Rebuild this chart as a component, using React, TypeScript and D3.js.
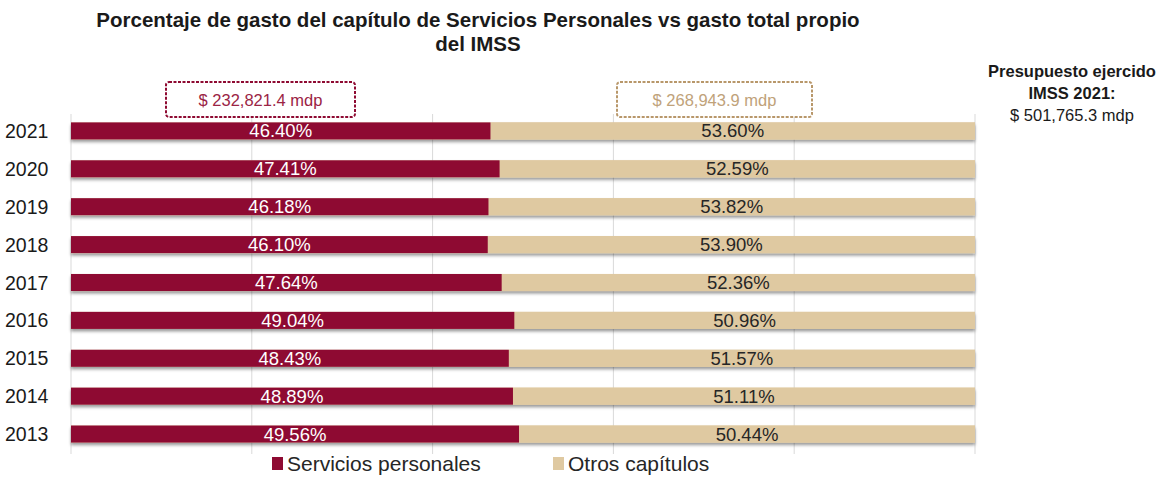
import React, { useEffect, useRef } from "react"
import * as d3 from "d3"

const years = ["2021", "2020", "2019", "2018", "2017", "2016", "2015", "2014", "2013"]
const servicios = [46.4, 47.41, 46.18, 46.1, 47.64, 49.04, 48.43, 48.89, 49.56]
const otros = [53.6, 52.59, 53.82, 53.9, 52.36, 50.96, 51.57, 51.11, 50.44]
const xTicks = [0, 20, 40, 60, 80, 100]
const seriesNames = ["Servicios personales", "Otros capítulos"]
const boxLabels = ["$ 232,821.4 mdp", "$ 268,943.9 mdp"]
const sideNote = ["Presupuesto ejercido", "IMSS 2021:", "$ 501,765.3 mdp"]

const WIDTH = 1163
const HEIGHT = 477
const MAROON = "#8e0a32"
const TAN = "#dfc9a1"
const FONT = "'Liberation Sans', Arial, sans-serif"

const App = () => {
	const ref = useRef(null)

	useEffect(() => {
		const svg = d3.select(ref.current)
		svg.selectAll("*").remove()

		const x = d3.scaleLinear().domain([0, 100]).range([71, 975])
		const y = d3.scaleBand().domain(years).range([112, 453]).paddingInner(0.55).paddingOuter(0.275)

		const defs = svg.append("defs")
		const filter = defs.append("filter").attr("id", "shadow").attr("x", "-5%").attr("y", "-50%").attr("width", "110%").attr("height", "220%")
		filter.append("feDropShadow").attr("dx", 0).attr("dy", 2.5).attr("stdDeviation", 1.6).attr("flood-color", "#000").attr("flood-opacity", 0.4)

		// Title
		const title = svg.append("text")
			.attr("text-anchor", "middle")
			.style("font-family", FONT)
			.style("font-size", "20.5px")
			.style("font-weight", "bold")
			.attr("fill", "#1a1a1a")
		title.append("tspan").attr("x", 478).attr("y", 27).text("Porcentaje de gasto del capítulo de Servicios Personales vs gasto total propio")
		title.append("tspan").attr("x", 478).attr("y", 51).text("del IMSS")

		// Gridlines
		svg.append("g")
			.selectAll("line")
			.data(xTicks)
			.join("line")
			.attr("x1", d => x(d))
			.attr("x2", d => x(d))
			.attr("y1", 114)
			.attr("y2", 454)
			.attr("stroke", "#d9d9d9")
			.attr("stroke-width", 1)

		// Year labels
		svg.append("g")
			.selectAll("text")
			.data(years)
			.join("text")
			.attr("x", 5)
			.attr("y", d => y(d) + y.bandwidth() / 2 + 7)
			.style("font-family", FONT)
			.style("font-size", "19.5px")
			.attr("fill", "#1a1a1a")
			.text(d => d)

		// Bars
		const rows = years.map((yr, i) => ({ year: yr, a: servicios[i], b: otros[i] }))
		const g = svg.append("g")
		const row = g.selectAll("g.row").data(rows).join("g").attr("class", "row")

		row.append("rect")
			.attr("x", x(0))
			.attr("y", d => y(d.year))
			.attr("width", d => x(d.a + d.b) - x(0))
			.attr("height", y.bandwidth())
			.attr("fill", TAN)
			.attr("filter", "url(#shadow)")
		row.append("rect")
			.attr("x", d => x(d.a))
			.attr("y", d => y(d.year))
			.attr("width", d => x(d.a + d.b) - x(d.a))
			.attr("height", y.bandwidth())
			.attr("fill", TAN)
		row.append("rect")
			.attr("x", x(0))
			.attr("y", d => y(d.year))
			.attr("width", d => x(d.a) - x(0))
			.attr("height", y.bandwidth())
			.attr("fill", MAROON)

		row.append("text")
			.attr("x", d => (x(0) + x(d.a)) / 2)
			.attr("y", d => y(d.year) + y.bandwidth() / 2 + 6.5)
			.attr("text-anchor", "middle")
			.style("font-family", FONT)
			.style("font-size", "18.5px")
			.attr("fill", "#ffffff")
			.text(d => d.a.toFixed(2) + "%")
		row.append("text")
			.attr("x", d => (x(d.a) + x(d.a + d.b)) / 2)
			.attr("y", d => y(d.year) + y.bandwidth() / 2 + 6.5)
			.attr("text-anchor", "middle")
			.style("font-family", FONT)
			.style("font-size", "18.5px")
			.attr("fill", "#262626")
			.text(d => d.b.toFixed(2) + "%")

		// Amount boxes
		const boxes = [
			{ x0: 166, x1: 355, color: MAROON, text: "#9b2445", label: boxLabels[0] },
			{ x0: 617, x1: 812, color: "#b8976a", text: "#c0a27a", label: boxLabels[1] },
		]
		const box = svg.append("g").selectAll("g").data(boxes).join("g")
		box.append("rect")
			.attr("x", d => d.x0)
			.attr("y", 82)
			.attr("width", d => d.x1 - d.x0)
			.attr("height", 35)
			.attr("rx", 3)
			.attr("fill", "#ffffff")
			.attr("stroke", d => d.color)
			.attr("stroke-width", 2)
			.attr("stroke-dasharray", "3,1.5")
		box.append("text")
			.attr("x", d => (d.x0 + d.x1) / 2)
			.attr("y", 106)
			.attr("text-anchor", "middle")
			.style("font-family", FONT)
			.style("font-size", "16.5px")
			.attr("fill", d => d.text)
			.text(d => d.label)

		// Side note
		svg.append("g")
			.selectAll("text")
			.data(sideNote)
			.join("text")
			.attr("x", 1072)
			.attr("y", (d, i) => 77 + i * 22)
			.attr("text-anchor", "middle")
			.style("font-family", FONT)
			.style("font-size", "16.5px")
			.style("font-weight", (d, i) => (i < 2 ? "bold" : "normal"))
			.attr("fill", "#1a1a1a")
			.text(d => d)

		// Legend
		const legend = svg.append("g").attr("transform", "translate(272, 457)")
		const items = [
			{ name: seriesNames[0], color: MAROON, dx: 0 },
			{ name: seriesNames[1], color: TAN, dx: 281 },
		]
		const li = legend.selectAll("g").data(items).join("g").attr("transform", d => `translate(${d.dx},0)`)
		li.append("rect").attr("width", 11).attr("height", 13).attr("fill", d => d.color)
		li.append("text")
			.attr("x", 15)
			.attr("y", 14)
			.style("font-family", FONT)
			.style("font-size", "21px")
			.attr("fill", "#262626")
			.text(d => d.name)
	}, [])

	return (
		<svg
			ref={ref}
			width={WIDTH}
			height={HEIGHT}
			style={{ position: "absolute", top: 0, left: 0, background: "#fff" }}
		></svg>
	)
}

export default App
